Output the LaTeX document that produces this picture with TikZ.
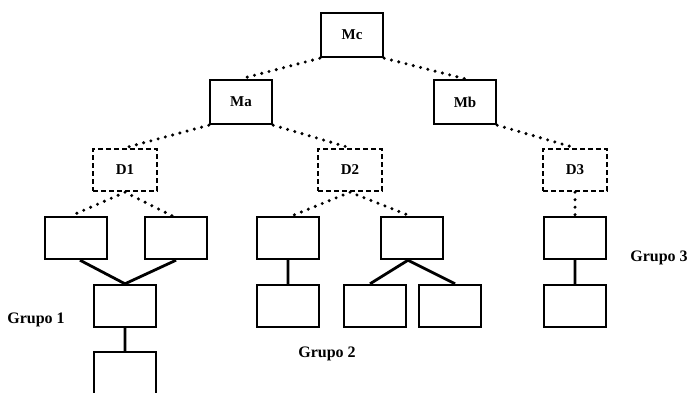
\documentclass[tikz,border=0pt]{standalone}
\usepackage{fontspec}
\setmainfont{Liberation Serif}
\usetikzlibrary{positioning}
\tikzset{
x=1pt, y=-1pt, % one unit per pixel of the picture, y going down
unit/.style={draw, line width=2.4pt, minimum width=62pt, minimum height=42pt, inner sep=0pt, font=\bfseries\fontsize{15}{18}\selectfont}, % the boxes of the groups
top/.style={unit, minimum height=44pt}, % Ma, Mb and Mc
dept/.style={unit, dashed, dash pattern=on 5pt off 3pt, minimum width=64pt, minimum height=42pt}, % D1, D2 and D3
link/.style={line width=3.4pt, line cap=round, dash pattern=on 0pt off 7.5pt}, % the dotted lines
tie/.style={line width=2.8pt}, % solid lines inside a group
group/.style={font=\bfseries\fontsize{16}{19}\selectfont}, % the group names
}
\begin{document}
\begin{tikzpicture}
    \useasboundingbox (0,0) rectangle (690,392);
    \node[top] (mc) at (352,35) {Mc};
    \node[top] (ma) at (241,102) {Ma};
    \node[top] (mb) at (465,102) {Mb};
    \node[dept] (d1) at (125,170) {D1};
    \node[dept] (d2) at (350,170) {D2};
    \node[dept] (d3) at (575,170) {D3};
    \node[unit] (g1a) at (76,238) {};
    \node[unit] (g1b) at (176,238) {};
    \node[unit] (g1c) at (125,306) {};
    \node[unit] (g1d) at (125,373) {};
    \node[unit] (g2a) at (288,238) {};
    \node[unit] (g2b) at (412,238) {};
    \node[unit] (g2c) at (288,306) {};
    \node[unit] (g2d) at (375,306) {};
    \node[unit] (g2e) at (450,306) {};
    \node[unit] (g3a) at (575,238) {};
    \node[unit] (g3b) at (575,306) {};
    \node[group] (grupo1) at (36,320) {Grupo 1};
    \node[group] (grupo2) at (327,354) {Grupo 2};
    \node[group] (grupo3) at (659,258) {Grupo 3};
    \draw[link] (mc.south west) -- (ma.north)
    (mc.south east) -- (mb.north)
    (ma.south west) -- (d1.north)
    (ma.south east) -- (d2.north)
    (mb.south east) -- (d3.north)
    (d1.south) -- ([xshift=-5pt]g1a.north)
    (d1.south) -- ([xshift=-4pt]g1b.north)
    (d2.south) -- ([xshift=4pt]g2a.north)
    (d2.south) -- ([xshift=-2pt]g2b.north)
    (d3.south) -- (g3a.north);
    \draw[tie] ([xshift=4pt]g1a.south) -- (g1c.north)
    (g1b.south) -- (g1c.north)
    (g1c) -- (g1d)
    (g2a) -- (g2c)
    ([xshift=-4pt]g2b.south) -- ([xshift=-5pt]g2d.north)
    ([xshift=-4pt]g2b.south) -- ([xshift=5pt]g2e.north)
    (g3a) -- (g3b);
\end{tikzpicture}
\end{document}
